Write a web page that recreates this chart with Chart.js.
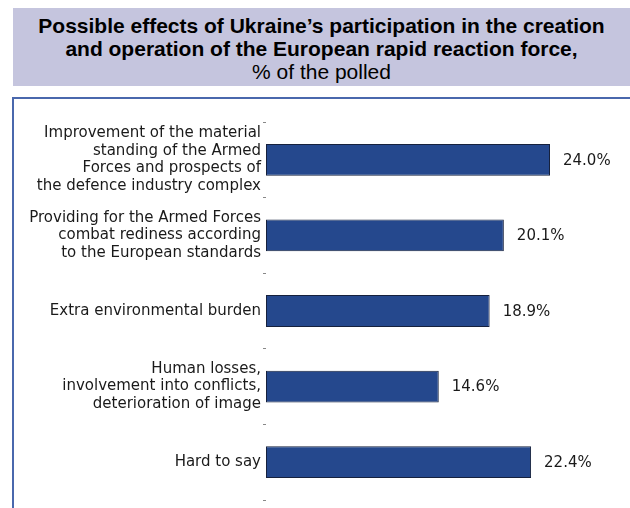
<!DOCTYPE html>
<html>
<head>
<meta charset="utf-8">
<script src="https://cdn.jsdelivr.net/npm/chart.js@4/dist/chart.umd.min.js"></script>
<style>
  body { margin: 0; background: #fff; }
  #wrap { position: relative; width: 630px; height: 508px; overflow: hidden; }
  #title {
    position: absolute; left: 13px; top: 8px; width: 617px; height: 78px;
    background: #c5c5de; text-align: center;
    font-family: "Liberation Sans", Arial, sans-serif; font-size: 21px; color: #000;
    line-height: 23px; padding-top: 6px; box-sizing: border-box;
  }
  #title b { font-weight: bold; }
  #frame {
    position: absolute; left: 12px; top: 97px; width: 630px; height: 420px;
    border-top: 2px solid #4a68ad; border-left: 2px solid #4a68ad;
  }
  #chart { position: absolute; left: 0; top: 0; }
</style>
</head>
<body>
<div id="wrap">
  <div id="title"><b>Possible effects of Ukraine’s participation in the creation<br>and operation of the European rapid reaction force,</b><br>% of the polled</div>
  <div id="frame"></div>
  <canvas id="chart" width="630" height="508"></canvas>
</div>
<script>
// Answer categories (multi-line labels) and their shares, %
const categories = [
    ['Improvement of the material', 'standing of the Armed', 'Forces and prospects of', 'the defence industry complex'],
    ['Providing for the Armed Forces', 'combat rediness according', 'to the European standards'],
    'Extra environmental burden',
    ['Human losses,', 'involvement into conflicts,', 'deterioration of image'],
    'Hard to say'
];
const shares = [24.0, 20.1, 18.9, 14.6, 22.4];

const labelFont = '"DejaVu Sans", sans-serif';

// Draws "24.0%" style labels to the right of each bar
const valueLabels = {
    id: 'valueLabels',
    afterDatasetsDraw(chart) {
        const ctx = chart.ctx;
        const meta = chart.getDatasetMeta(0);
        ctx.save();
        ctx.font = '15px ' + labelFont;
        ctx.fillStyle = '#1a1a1a';
        ctx.textBaseline = 'middle';
        ctx.textAlign = 'left';
        meta.data.forEach((bar, i) => {
            ctx.fillText(shares[i].toFixed(1) + '%', bar.x + 13, bar.y + 1);
        });
        ctx.restore();
    }
};

new Chart(document.getElementById('chart'), {
    type: 'bar',
    data: {
        labels: categories,
        datasets: [{
            data: shares,
            backgroundColor: '#25488d',
            borderColor: '#16213d',
            borderWidth: 1,
            borderSkipped: false,
            barPercentage: 0.42,
            categoryPercentage: 1
        }]
    },
    options: {
        indexAxis: 'y',
        responsive: false,
        animation: false,
        layout: { padding: { top: 122, bottom: 8, left: 0, right: 9 } },
        plugins: {
            legend: { display: false },
            tooltip: { enabled: false }
        },
        scales: {
            x: {
                display: false,
                min: 0,
                max: 30
            },
            y: {
                // fixed label column, no extra room reserved for tall labels
                afterFit(scale) {
                    scale.width = 266;
                    scale.paddingTop = 0;
                    scale.paddingBottom = 0;
                },
                border: { display: false },
                grid: {
                    offset: true,
                    drawOnChartArea: false,
                    drawTicks: true,
                    tickLength: 3,
                    color: '#888'
                },
                ticks: {
                    padding: 2,
                    color: '#1a1a1a',
                    font: { family: labelFont, size: 15, lineHeight: 1.17 }
                }
            }
        }
    },
    plugins: [valueLabels]
});
</script>
</body>
</html>
